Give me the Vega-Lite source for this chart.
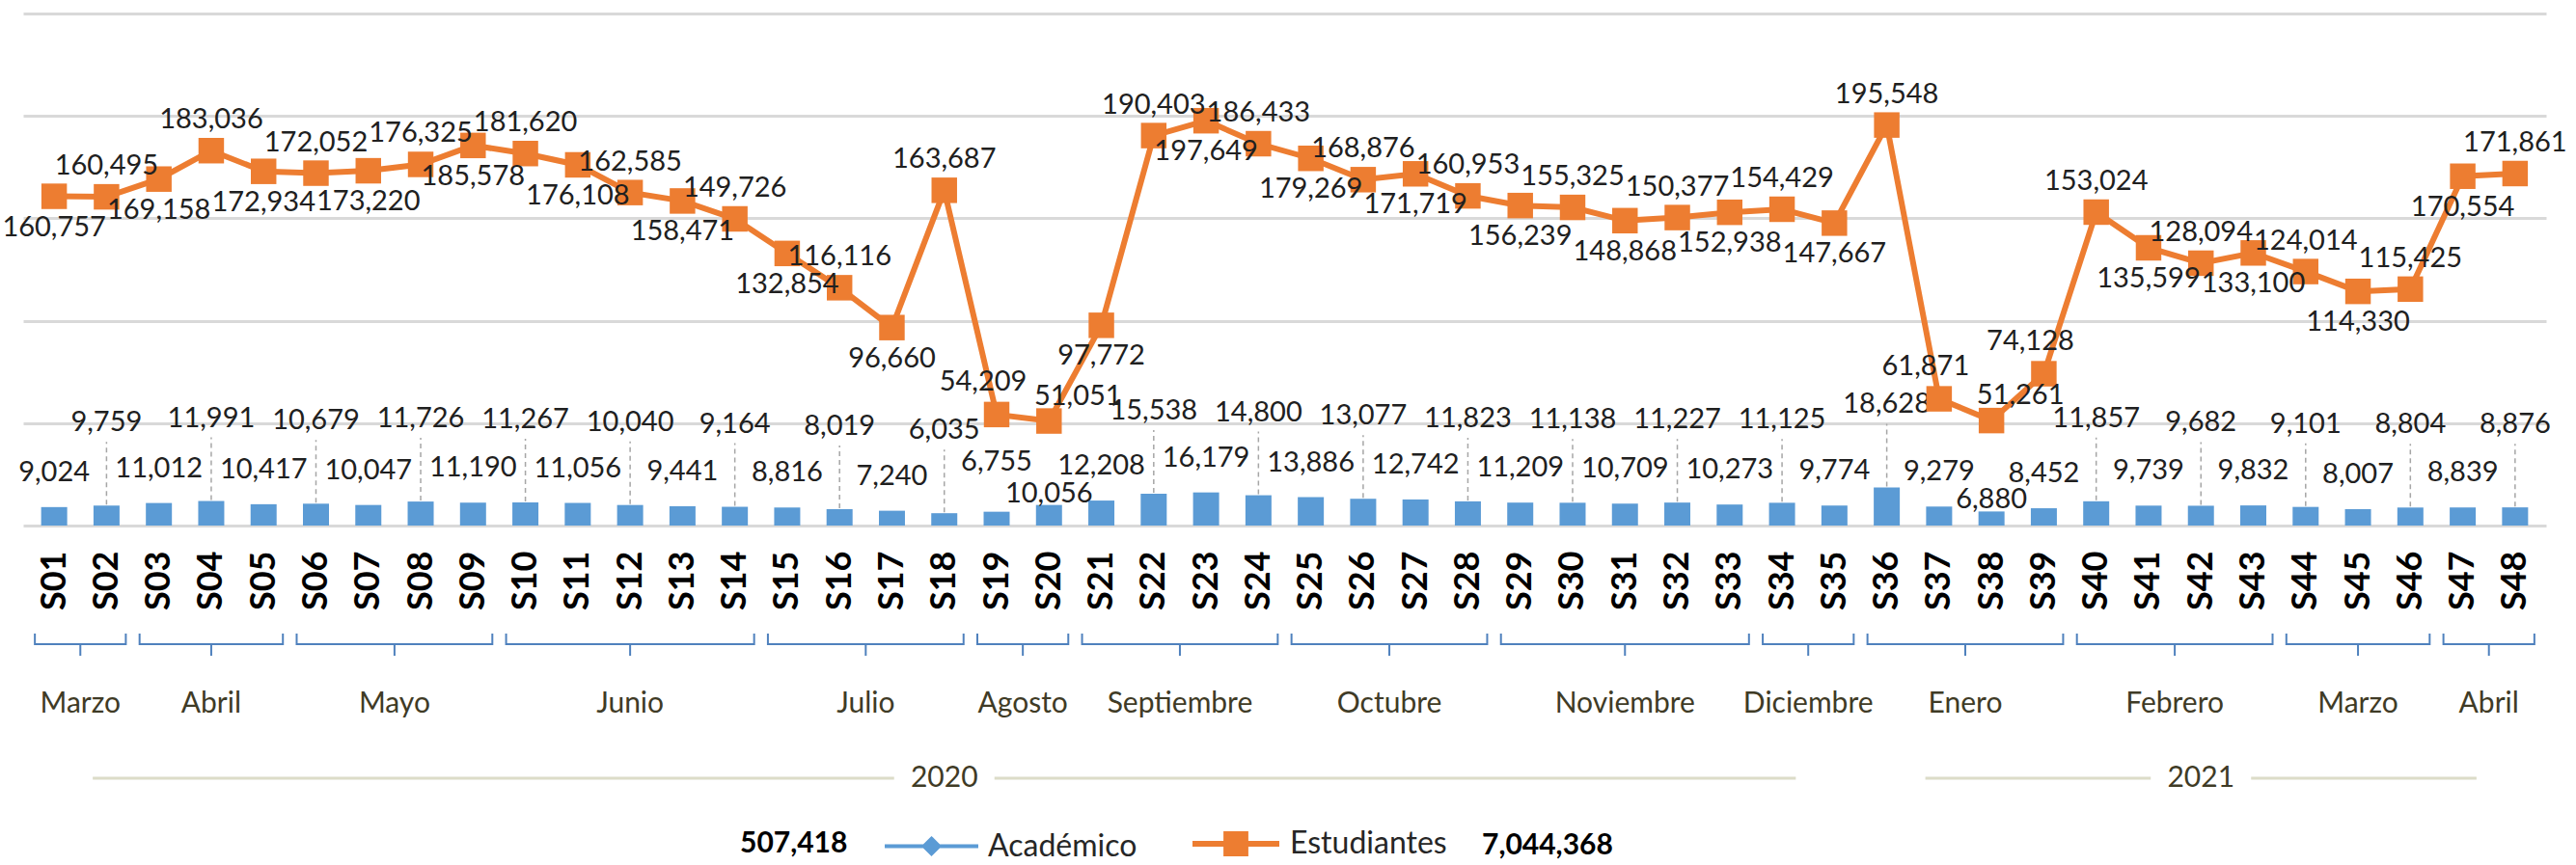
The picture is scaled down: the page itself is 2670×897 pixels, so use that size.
{
  "$schema": "https://vega.github.io/schema/vega-lite/v6.json",
  "autosize": {"type": "none"},
  "padding": {"left": 24, "top": 14, "right": 31, "bottom": 352},
  "width": 2615,
  "height": 531,
  "background": "white",
  "config": {"view": {"stroke": null}, "font": "Lato", "legend": {"padding": 0}},
  "datasets": {
    "semanas": [
      {"semana": "S01", "n": 1, "academico": 9024, "estudiantes": 160757},
      {"semana": "S02", "n": 2, "academico": 9759, "estudiantes": 160495},
      {"semana": "S03", "n": 3, "academico": 11012, "estudiantes": 169158},
      {"semana": "S04", "n": 4, "academico": 11991, "estudiantes": 183036},
      {"semana": "S05", "n": 5, "academico": 10417, "estudiantes": 172934},
      {"semana": "S06", "n": 6, "academico": 10679, "estudiantes": 172052},
      {"semana": "S07", "n": 7, "academico": 10047, "estudiantes": 173220},
      {"semana": "S08", "n": 8, "academico": 11726, "estudiantes": 176325},
      {"semana": "S09", "n": 9, "academico": 11190, "estudiantes": 185578},
      {"semana": "S10", "n": 10, "academico": 11267, "estudiantes": 181620},
      {"semana": "S11", "n": 11, "academico": 11056, "estudiantes": 176108},
      {"semana": "S12", "n": 12, "academico": 10040, "estudiantes": 162585},
      {"semana": "S13", "n": 13, "academico": 9441, "estudiantes": 158471},
      {"semana": "S14", "n": 14, "academico": 9164, "estudiantes": 149726},
      {"semana": "S15", "n": 15, "academico": 8816, "estudiantes": 132854},
      {"semana": "S16", "n": 16, "academico": 8019, "estudiantes": 116116},
      {"semana": "S17", "n": 17, "academico": 7240, "estudiantes": 96660},
      {"semana": "S18", "n": 18, "academico": 6035, "estudiantes": 163687},
      {"semana": "S19", "n": 19, "academico": 6755, "estudiantes": 54209},
      {"semana": "S20", "n": 20, "academico": 10056, "estudiantes": 51051},
      {"semana": "S21", "n": 21, "academico": 12208, "estudiantes": 97772},
      {"semana": "S22", "n": 22, "academico": 15538, "estudiantes": 190403},
      {"semana": "S23", "n": 23, "academico": 16179, "estudiantes": 197649},
      {"semana": "S24", "n": 24, "academico": 14800, "estudiantes": 186433},
      {"semana": "S25", "n": 25, "academico": 13886, "estudiantes": 179269},
      {"semana": "S26", "n": 26, "academico": 13077, "estudiantes": 168876},
      {"semana": "S27", "n": 27, "academico": 12742, "estudiantes": 171719},
      {"semana": "S28", "n": 28, "academico": 11823, "estudiantes": 160953},
      {"semana": "S29", "n": 29, "academico": 11209, "estudiantes": 156239},
      {"semana": "S30", "n": 30, "academico": 11138, "estudiantes": 155325},
      {"semana": "S31", "n": 31, "academico": 10709, "estudiantes": 148868},
      {"semana": "S32", "n": 32, "academico": 11227, "estudiantes": 150377},
      {"semana": "S33", "n": 33, "academico": 10273, "estudiantes": 152938},
      {"semana": "S34", "n": 34, "academico": 11125, "estudiantes": 154429},
      {"semana": "S35", "n": 35, "academico": 9774, "estudiantes": 147667},
      {"semana": "S36", "n": 36, "academico": 18628, "estudiantes": 195548},
      {"semana": "S37", "n": 37, "academico": 9279, "estudiantes": 61871},
      {"semana": "S38", "n": 38, "academico": 6880, "estudiantes": 51261},
      {"semana": "S39", "n": 39, "academico": 8452, "estudiantes": 74128},
      {"semana": "S40", "n": 40, "academico": 11857, "estudiantes": 153024},
      {"semana": "S41", "n": 41, "academico": 9739, "estudiantes": 135599},
      {"semana": "S42", "n": 42, "academico": 9682, "estudiantes": 128094},
      {"semana": "S43", "n": 43, "academico": 9832, "estudiantes": 133100},
      {"semana": "S44", "n": 44, "academico": 9101, "estudiantes": 124014},
      {"semana": "S45", "n": 45, "academico": 8007, "estudiantes": 114330},
      {"semana": "S46", "n": 46, "academico": 8804, "estudiantes": 115425},
      {"semana": "S47", "n": 47, "academico": 8839, "estudiantes": 170554},
      {"semana": "S48", "n": 48, "academico": 8876, "estudiantes": 171861}
    ],
    "meses": [
      {"mes": "Marzo", "anio": 2020, "desde": 1, "hasta": 2},
      {"mes": "Abril", "anio": 2020, "desde": 3, "hasta": 5},
      {"mes": "Mayo", "anio": 2020, "desde": 6, "hasta": 9},
      {"mes": "Junio", "anio": 2020, "desde": 10, "hasta": 14},
      {"mes": "Julio", "anio": 2020, "desde": 15, "hasta": 18},
      {"mes": "Agosto", "anio": 2020, "desde": 19, "hasta": 20},
      {"mes": "Septiembre", "anio": 2020, "desde": 21, "hasta": 24},
      {"mes": "Octubre", "anio": 2020, "desde": 25, "hasta": 28},
      {"mes": "Noviembre", "anio": 2020, "desde": 29, "hasta": 33},
      {"mes": "Diciembre", "anio": 2020, "desde": 34, "hasta": 35},
      {"mes": "Enero", "anio": 2021, "desde": 36, "hasta": 39},
      {"mes": "Febrero", "anio": 2021, "desde": 40, "hasta": 43},
      {"mes": "Marzo", "anio": 2021, "desde": 44, "hasta": 46},
      {"mes": "Abril", "anio": 2021, "desde": 47, "hasta": 48}
    ],
    "anios": [
      {"anio": "2020", "desde": 1, "hasta": 35},
      {"anio": "2021", "desde": 36, "hasta": 48}
    ]
  },
  "data": {"name": "semanas"},
  "layer": [
    {
      "mark": {"type": "bar", "width": 27},
      "encoding": {
        "x": {
          "field": "n", "type": "quantitative",
          "scale": {"domain": [0.5, 48.5], "nice": false, "zero": false},
          "axis": {
            "values": [1,2,3,4,5,6,7,8,9,10,11,12,13,14,15,16,17,18,19,20,21,22,23,24,25,26,27,28,29,30,31,32,33,34,35,36,37,38,39,40,41,42,43,44,45,46,47,48],
            "labelExpr": "'S' + (datum.value < 10 ? '0' : '') + datum.value",
            "labelAngle": 270, "labelFont": "Lato", "labelFontWeight": "bold",
            "labelFontSize": 36, "labelColor": "#000000", "labelPadding": 26,
            "labelOverlap": false, "labelFlush": false, "ticks": false, "domain": false, "grid": false, "title": null
          }
        },
        "y": {
          "field": "academico", "type": "quantitative",
          "scale": {"domain": [0, 250000], "nice": false, "zero": true},
          "axis": {
            "values": [0, 50000, 100000, 150000, 200000, 250000],
            "labels": false, "ticks": false, "domain": false, "title": null,
            "grid": true, "gridColor": "#d9d9d9", "gridWidth": 3
          }
        },
        "fill": {
          "datum": "Académico",
          "scale": {"domain": ["Académico"], "range": ["#5B9BD5"]},
          "legend": {
            "orient": "none", "legendX": 743, "legendY": 813, "direction": "horizontal",
            "title": "507,418", "titleOrient": "left", "titleAnchor": "middle", "titleBaseline": "top",
            "titleFont": "Lato", "titleFontSize": 30, "titleLimit": 400,
            "titleFontWeight": "bold", "titleColor": "#000000", "titlePadding": 36,
            "symbolType": "M-1,0H1M0,-0.16L0.16,0L0,0.16L-0.16,0Z", "symbolSize": 9400,
            "symbolStrokeColor": "#5B9BD5", "symbolStrokeWidth": 4,
            "labelFont": "Lato", "labelFontSize": 32, "labelColor": "#262626", "labelOffset": 8, "labelLimit": 400
          }
        }
      }
    },
    {
      "transform": [{"filter": "datum.n % 2 === 0 && datum.estudiantes >= 80000"}],
      "mark": {"type": "rule", "color": "#a6a6a6", "strokeWidth": 1.5, "strokeDash": [5, 4], "yOffset": -1, "y2Offset": -66},
      "encoding": {
        "x": {"field": "n", "type": "quantitative"},
        "y": {"field": "academico", "type": "quantitative"},
        "y2": {"field": "academico"}
      }
    },
    {
      "transform": [{"filter": "datum.n % 2 === 1 && datum.estudiantes >= 60000"}],
      "mark": {"type": "text", "font": "Lato", "fontSize": 29, "color": "#202020", "baseline": "middle", "dy": -36},
      "encoding": {
        "x": {"field": "n", "type": "quantitative"},
        "y": {"field": "academico", "type": "quantitative"},
        "text": {"field": "academico", "type": "quantitative", "format": ","}
      }
    },
    {
      "transform": [{"filter": "datum.n % 2 === 1 && datum.estudiantes < 60000"}],
      "mark": {"type": "text", "font": "Lato", "fontSize": 29, "color": "#202020", "baseline": "middle", "dy": -52},
      "encoding": {
        "x": {"field": "n", "type": "quantitative"},
        "y": {"field": "academico", "type": "quantitative"},
        "text": {"field": "academico", "type": "quantitative", "format": ","}
      }
    },
    {
      "transform": [{"filter": "datum.n % 2 === 0 && datum.estudiantes < 80000"}],
      "mark": {"type": "text", "font": "Lato", "fontSize": 29, "color": "#202020", "baseline": "middle", "dy": -12},
      "encoding": {
        "x": {"field": "n", "type": "quantitative"},
        "y": {"field": "academico", "type": "quantitative"},
        "text": {"field": "academico", "type": "quantitative", "format": ","}
      }
    },
    {
      "transform": [{"filter": "datum.n % 2 === 0 && datum.estudiantes >= 80000"}],
      "mark": {"type": "text", "font": "Lato", "fontSize": 29, "color": "#202020", "baseline": "middle", "dy": -86},
      "encoding": {
        "x": {"field": "n", "type": "quantitative"},
        "y": {"field": "academico", "type": "quantitative"},
        "text": {"field": "academico", "type": "quantitative", "format": ","}
      }
    },
    {
      "mark": {"type": "line", "strokeWidth": 6},
      "encoding": {
        "x": {"field": "n", "type": "quantitative"},
        "y": {"field": "estudiantes", "type": "quantitative"},
        "stroke": {
          "datum": "Estudiantes",
          "scale": {"domain": ["Estudiantes"], "range": ["#ED7D31"]},
          "legend": {
            "orient": "none", "legendX": 1209, "legendY": 813, "direction": "horizontal",
            "title": "7,044,368", "titleOrient": "right", "titleAnchor": "middle", "titleBaseline": "top",
            "titleFont": "Lato", "titleFontSize": 30, "titleLimit": 400,
            "titleFontWeight": "bold", "titleColor": "#000000", "titlePadding": 36,
            "symbolType": "M-1,0H1M-0.22,-0.22H0.22V0.22H-0.22Z", "symbolSize": 8100,
            "symbolFillColor": "#ED7D31", "symbolStrokeWidth": 6,
            "labelFont": "Lato", "labelFontSize": 32, "labelColor": "#262626", "labelOffset": 8, "labelLimit": 400,
            "encode": {"symbols": {"update": {"fill": {"value": "#ED7D31"}}}}
          }
        }
      }
    },
    {
      "mark": {"type": "point", "shape": "square", "size": 700, "filled": true, "color": "#ED7D31", "opacity": 1},
      "encoding": {
        "x": {"field": "n", "type": "quantitative"},
        "y": {"field": "estudiantes", "type": "quantitative"}
      }
    },
    {
      "transform": [{"filter": "datum.n % 2 === 1 && datum.estudiantes >= 80000"}],
      "mark": {"type": "text", "font": "Lato", "fontSize": 29, "color": "#202020", "baseline": "middle", "dy": 32},
      "encoding": {
        "x": {"field": "n", "type": "quantitative"},
        "y": {"field": "estudiantes", "type": "quantitative"},
        "text": {"field": "estudiantes", "type": "quantitative", "format": ","}
      }
    },
    {
      "transform": [{"filter": "datum.n % 2 === 0 && datum.estudiantes >= 80000"}],
      "mark": {"type": "text", "font": "Lato", "fontSize": 29, "color": "#202020", "baseline": "middle", "dy": -32},
      "encoding": {
        "x": {"field": "n", "type": "quantitative"},
        "y": {"field": "estudiantes", "type": "quantitative"},
        "text": {"field": "estudiantes", "type": "quantitative", "format": ","}
      }
    },
    {
      "transform": [{"filter": "datum.n % 2 === 1 && datum.estudiantes < 80000"}],
      "mark": {"type": "text", "font": "Lato", "fontSize": 29, "color": "#202020", "baseline": "middle", "dy": -34, "dx": -14},
      "encoding": {
        "x": {"field": "n", "type": "quantitative"},
        "y": {"field": "estudiantes", "type": "quantitative"},
        "text": {"field": "estudiantes", "type": "quantitative", "format": ","}
      }
    },
    {
      "transform": [{"filter": "datum.n % 2 === 0 && datum.estudiantes < 80000"}],
      "mark": {"type": "text", "font": "Lato", "fontSize": 29, "color": "#202020", "baseline": "middle", "dy": -26, "dx": 30},
      "encoding": {
        "x": {"field": "n", "type": "quantitative"},
        "y": {"field": "estudiantes", "type": "quantitative"},
        "text": {"field": "estudiantes", "type": "quantitative", "format": ","}
      }
    },
    {
      "data": {"name": "meses"},
      "mark": {"type": "rule", "color": "#4F81BD", "strokeWidth": 2, "xOffset": -20, "x2Offset": 20, "yOffset": 123},
      "encoding": {
        "x": {"field": "desde", "type": "quantitative"},
        "x2": {"field": "hasta"},
        "y": {"datum": 0, "type": "quantitative"}
      }
    },
    {
      "data": {"name": "meses"},
      "mark": {"type": "rule", "color": "#4F81BD", "strokeWidth": 2, "xOffset": -20, "yOffset": 112, "y2Offset": 124},
      "encoding": {
        "x": {"field": "desde", "type": "quantitative"},
        "y": {"datum": 0, "type": "quantitative"},
        "y2": {"datum": 0}
      }
    },
    {
      "data": {"name": "meses"},
      "mark": {"type": "rule", "color": "#4F81BD", "strokeWidth": 2, "xOffset": 20, "yOffset": 112, "y2Offset": 124},
      "encoding": {
        "x": {"field": "hasta", "type": "quantitative"},
        "y": {"datum": 0, "type": "quantitative"},
        "y2": {"datum": 0}
      }
    },
    {
      "data": {"name": "meses"},
      "transform": [{"calculate": "(datum.desde + datum.hasta) / 2", "as": "centro"}],
      "mark": {"type": "rule", "color": "#4F81BD", "strokeWidth": 2, "yOffset": 123, "y2Offset": 135},
      "encoding": {
        "x": {"field": "centro", "type": "quantitative"},
        "y": {"datum": 0, "type": "quantitative"},
        "y2": {"datum": 0}
      }
    },
    {
      "data": {"name": "meses"},
      "transform": [{"calculate": "(datum.desde + datum.hasta) / 2", "as": "centro"}],
      "mark": {"type": "text", "font": "Lato", "fontSize": 30, "color": "#3f3b26", "baseline": "middle", "dy": 185},
      "encoding": {
        "x": {"field": "centro", "type": "quantitative"},
        "y": {"datum": 0, "type": "quantitative"},
        "text": {"field": "mes", "type": "nominal"}
      }
    },
    {
      "data": {"name": "anios"},
      "transform": [{"calculate": "(datum.desde + datum.hasta) / 2", "as": "centro"}],
      "mark": {"type": "rule", "color": "#dcdcc8", "strokeWidth": 3, "xOffset": 40, "x2Offset": -52, "yOffset": 262},
      "encoding": {
        "x": {"field": "desde", "type": "quantitative"},
        "x2": {"field": "centro"},
        "y": {"datum": 0, "type": "quantitative"}
      }
    },
    {
      "data": {"name": "anios"},
      "transform": [{"calculate": "(datum.desde + datum.hasta) / 2", "as": "centro"}],
      "mark": {"type": "rule", "color": "#dcdcc8", "strokeWidth": 3, "xOffset": 52, "x2Offset": -40, "yOffset": 262},
      "encoding": {
        "x": {"field": "centro", "type": "quantitative"},
        "x2": {"field": "hasta"},
        "y": {"datum": 0, "type": "quantitative"}
      }
    },
    {
      "data": {"name": "anios"},
      "transform": [{"calculate": "(datum.desde + datum.hasta) / 2", "as": "centro"}],
      "mark": {"type": "text", "font": "Lato", "fontSize": 30, "color": "#3f3b26", "baseline": "middle", "dy": 262},
      "encoding": {
        "x": {"field": "centro", "type": "quantitative"},
        "y": {"datum": 0, "type": "quantitative"},
        "text": {"field": "anio", "type": "nominal"}
      }
    }
  ]
}
